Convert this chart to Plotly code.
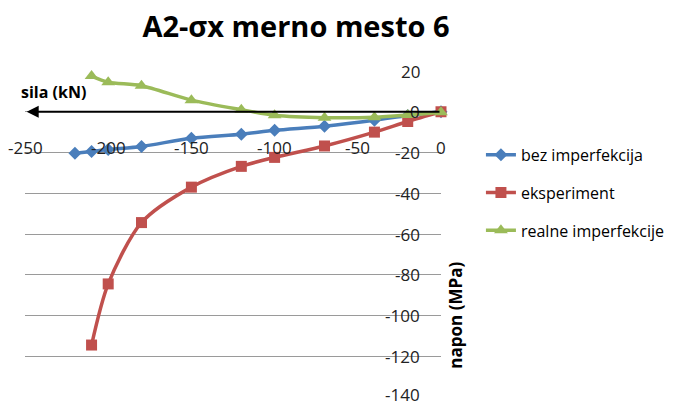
import plotly.graph_objects as go

# ---- data ----
blue_x = [-220, -210, -200, -180, -150, -120, -100, -70, -40, -20, 0]
blue_y = [-20.4, -19.5, -18.5, -17, -13, -11, -9.1, -7.1, -4.2, -1.8, 0]

red_x = [-210, -200, -180, -150, -120, -100, -70, -40, -20, 0]
red_y = [-114.5, -84.5, -54.4, -37, -26.8, -22.4, -16.8, -10, -4.8, 0]

green_x = [-210, -200, -180, -150, -120, -100, -70, -40, -20, 0]
green_y = [17.5, 14.5, 12.8, 5.7, 1.0, -1.7, -2.9, -2.7, -1.6, -0.2]

names = ["bez imperfekcija", "eksperiment", "realne imperfekcije"]
x_ticks = [-250, -200, -150, -100, -50, 0]
y_ticks = [20, 0, -20, -40, -60, -80, -100, -120, -140]

title_text = "A2-σx merno mesto 6"
x_title = "sila (kN)"
y_title = "napon (MPa)"

FONT = "Open Sans"
# the page body adds an 8px offset; size the figure to the visible area
W, H = 673, 396
fig = go.Figure()

series = [
    (blue_x, blue_y, names[0], "#4A7EBB", "diamond", 10),
    (red_x, red_y, names[1], "#C0504D", "square", 11),
    (green_x, green_y, names[2], "#9BBB59", "triangle-up", 12),
]
for i, (xs, ys, nm, col, sym, sz) in enumerate(series):
    fig.add_trace(go.Scatter(
        x=xs, y=ys, name=nm, mode="lines+markers",
        line=dict(color=col, width=3.5, shape="spline", smoothing=0.8),
        marker=dict(symbol=sym, size=sz, color=col),
        cliponaxis=False, legendgroup=str(i),
    ))

fig.update_layout(
    width=W, height=H, autosize=False,
    margin=dict(l=17, r=240, t=63, b=7),
    paper_bgcolor="white", plot_bgcolor="white",
    font=dict(family=FONT, size=16, color="black"),
    title=dict(text=f"<b>{title_text}</b>", x=288 / W, xanchor="center",
               y=1 - 19 / H, yanchor="middle", yref="container",
               font=dict(family=FONT, size=29, color="black")),
    xaxis=dict(range=[-250, 0], tickvals=x_ticks, showticklabels=False,
               showgrid=False, zeroline=False, automargin=False,
               showline=False, ticks=""),
    yaxis=dict(range=[-140, 20], tickvals=y_ticks, showticklabels=False,
               showgrid=True, gridcolor="#9a9a9a", gridwidth=1, automargin=False,
               zeroline=False, showline=False, ticks=""),
    legend=dict(x=1.096, y=0.795, xanchor="left", yanchor="top",
                font=dict(size=16), tracegroupgap=14, bgcolor="rgba(0,0,0,0)"),
)

# x tick labels, placed below the x axis line (which sits at y=0)
for v in x_ticks:
    fig.add_annotation(x=v, y=-17.5, xref="x", yref="y", text=str(v), showarrow=False,
                       xanchor="center", yanchor="middle",
                       font=dict(size=17, color="#222"))

# y tick labels, left of the y axis (which sits at x=0)
for v in y_ticks:
    fig.add_annotation(x=1, y=v, xref="paper", yref="y", text=str(v), showarrow=False,
                       xanchor="right", yanchor="middle", xshift=-19,
                       yshift=3 if v == y_ticks[-1] else 0,
                       font=dict(size=17, color="#222"))

# x axis arrow (pointing left) along y=0
fig.add_annotation(x=-249, y=0, ax=0, ay=0, xref="x", yref="y", axref="x", ayref="y",
                   showarrow=True, arrowhead=2, arrowsize=1.2, arrowwidth=2,
                   arrowcolor="black", text="")
# y axis arrow (pointing down) along x=0
fig.add_annotation(x=0, y=-140.3, ax=0, ay=20.5, xref="x", yref="y", axref="x", ayref="y",
                   showarrow=True, arrowhead=2, arrowsize=1.2, arrowwidth=2,
                   arrowcolor="black", text="")

fig.add_annotation(x=-233, y=9.6, xref="x", yref="y", text=f"<b>{x_title}</b>",
                   showarrow=False, font=dict(size=16, color="black"))
fig.add_annotation(x=1.034, y=-100, xref="paper", yref="y", text=f"<b>{y_title}</b>",
                   showarrow=False, textangle=-90, xanchor="center", yanchor="middle",
                   font=dict(size=17, color="black"))

fig.write_html("out.html")
